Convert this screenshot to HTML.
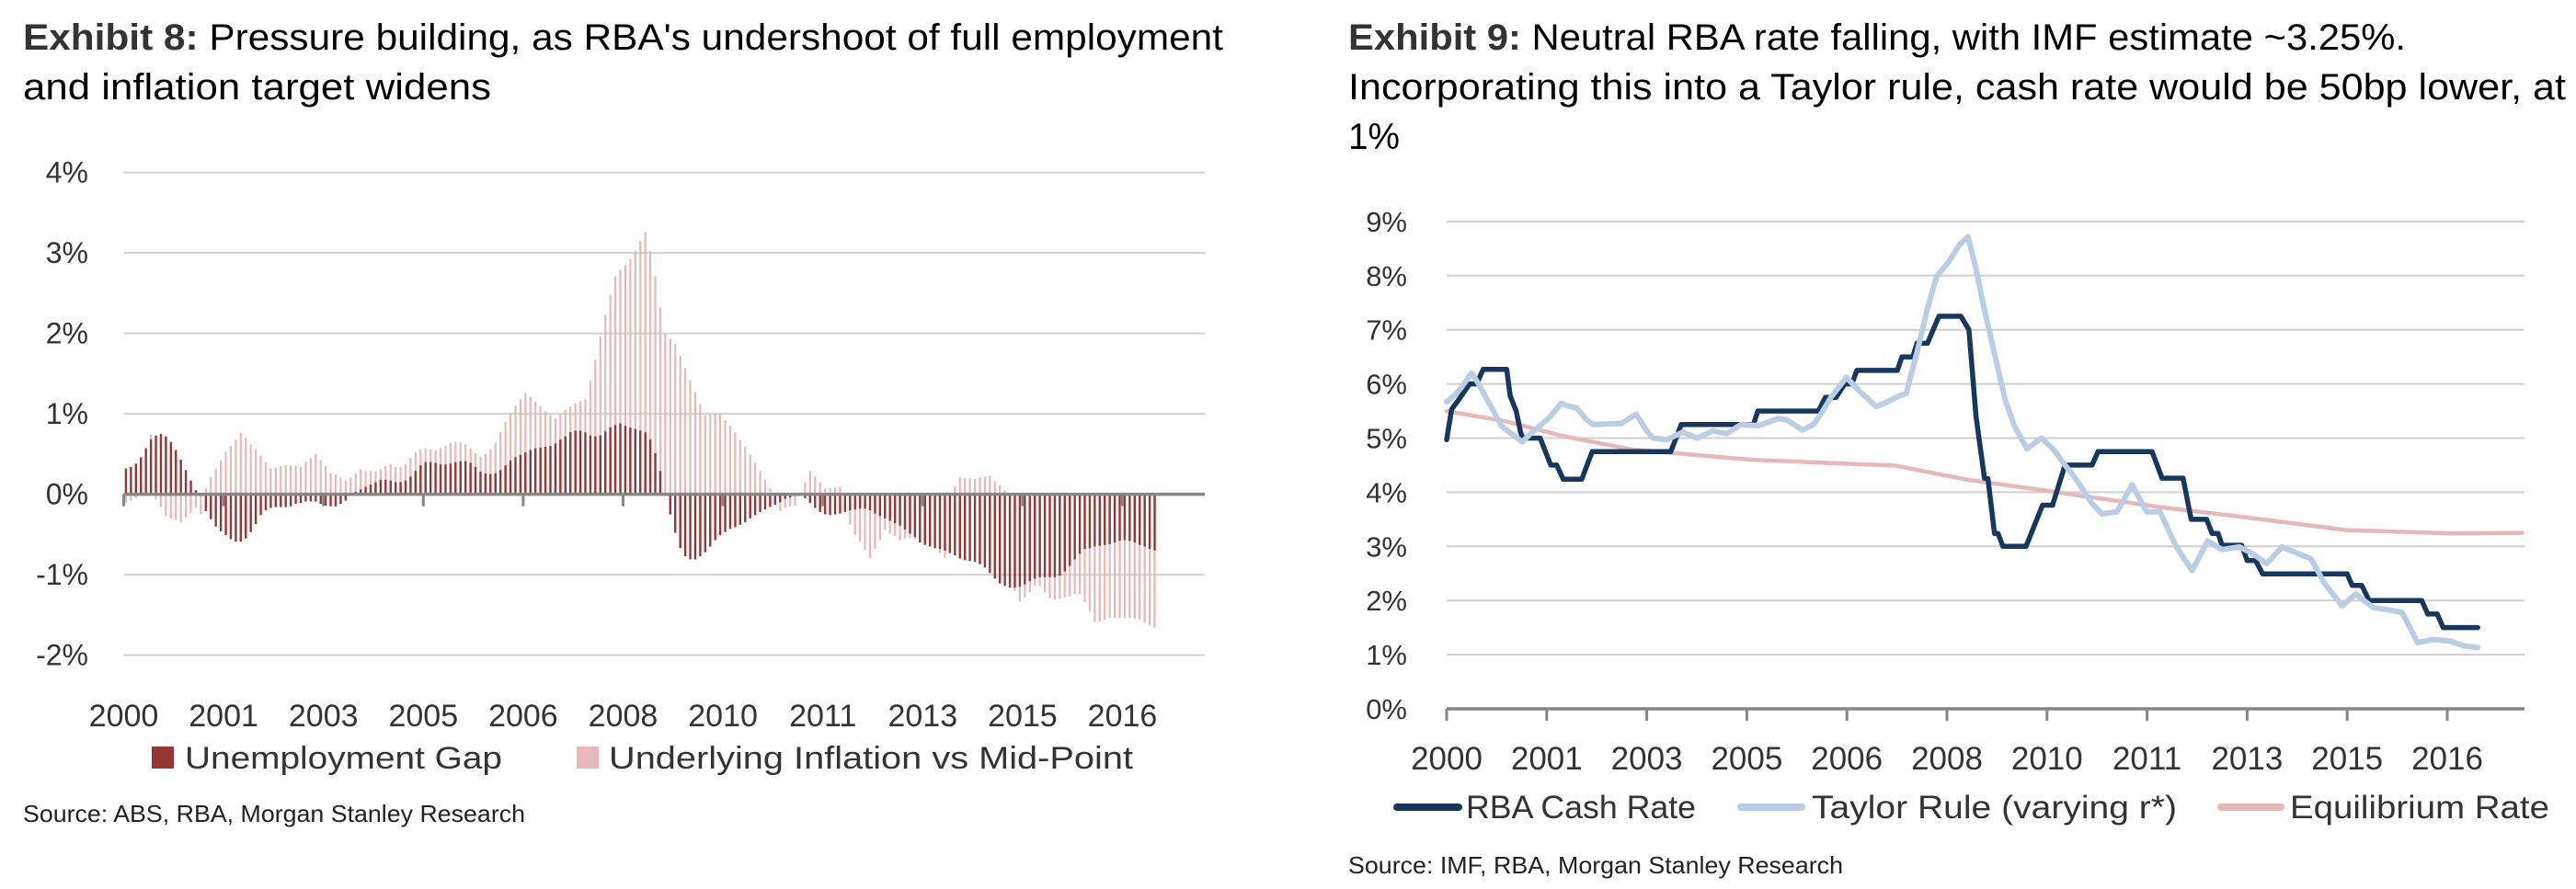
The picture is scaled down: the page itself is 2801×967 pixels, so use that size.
<!DOCTYPE html>
<html><head><meta charset="utf-8"><style>
html,body{margin:0;padding:0;background:#fff;}
svg{display:block;}
text{font-family:"Liberation Sans Narrow","Liberation Sans",sans-serif;}
</style></head><body>
<svg id="s" width="2801" height="967" viewBox="0 0 2801 967" xmlns="http://www.w3.org/2000/svg">
<g>
<text x="25" y="54" font-size="40" fill="#000" textLength="1305" lengthAdjust="spacingAndGlyphs"><tspan font-weight="bold" fill="#333">Exhibit 8:</tspan>  Pressure building, as RBA's undershoot of full employment</text>
<text x="25" y="108" font-size="40" fill="#000" textLength="509" lengthAdjust="spacingAndGlyphs">and inflation target widens</text>
<g id="lgrid"></g>
<g id="lbars"></g>
<g id="laxis"></g>
<g>
<rect x="165" y="812" width="24" height="24" fill="#943634"/>
<text x="201" y="836" font-size="34" fill="#333" textLength="345" lengthAdjust="spacingAndGlyphs">Unemployment Gap</text>
<rect x="627" y="812" width="24" height="24" fill="#e6b9b8"/>
<text x="662" y="836" font-size="34" fill="#333" textLength="570" lengthAdjust="spacingAndGlyphs">Underlying Inflation vs Mid-Point</text>
</g>
<text x="25" y="894" font-size="26" fill="#222" textLength="546" lengthAdjust="spacingAndGlyphs">Source: ABS, RBA, Morgan Stanley Research</text>
</g>
<g>
<text x="1466" y="54" font-size="40" fill="#000" textLength="1150" lengthAdjust="spacingAndGlyphs"><tspan font-weight="bold" fill="#333">Exhibit 9:</tspan>  Neutral RBA rate falling, with IMF estimate ~3.25%.</text>
<text x="1466" y="108" font-size="40" fill="#000" textLength="1324" lengthAdjust="spacingAndGlyphs">Incorporating this into a Taylor rule, cash rate would be 50bp lower, at</text>
<text x="1466" y="162" font-size="40" fill="#000" textLength="56" lengthAdjust="spacingAndGlyphs">1%</text>
<g id="rgrid"></g>
<g id="rlines"></g>
<g id="raxis"></g>
<g>
<line x1="1519" y1="878" x2="1586" y2="878" stroke="#17375e" stroke-width="8" stroke-linecap="round"/>
<text x="1594" y="890" font-size="35" fill="#333" textLength="250" lengthAdjust="spacingAndGlyphs">RBA Cash Rate</text>
<line x1="1893" y1="878" x2="1959" y2="878" stroke="#b9cde5" stroke-width="8" stroke-linecap="round"/>
<text x="1970" y="890" font-size="35" fill="#333" textLength="397" lengthAdjust="spacingAndGlyphs">Taylor Rule (varying r*)</text>
<line x1="2415" y1="878" x2="2480" y2="878" stroke="#e6b9b8" stroke-width="8" stroke-linecap="round"/>
<text x="2490" y="890" font-size="35" fill="#333" textLength="282" lengthAdjust="spacingAndGlyphs">Equilibrium Rate</text>
</g>
<text x="1466" y="950" font-size="26" fill="#222" textLength="538" lengthAdjust="spacingAndGlyphs">Source: IMF, RBA, Morgan Stanley Research</text>
</g>
</svg>
<script>
// ---------- Exhibit 8 data (monthly from Jan 2000) ----------
const xTickLabels = ["2000","2001","2003","2005","2006","2008","2010","2011","2013","2015","2016"];
const leftYTicks = [4,3,2,1,0,-1,-2];
const rightYTicks = [9,8,7,6,5,4,3,2,1,0];
const unemploymentGap = [0.32,0.34,0.38,0.46,0.57,0.68,0.73,0.75,0.72,0.65,0.55,0.43,0.30,0.17,0.05,
-0.02,-0.21,-0.31,-0.40,-0.46,-0.51,-0.56,-0.59,-0.59,-0.55,-0.47,-0.37,-0.26,-0.20,-0.17,
-0.16,-0.16,-0.16,-0.15,-0.12,-0.11,-0.09,-0.09,-0.09,-0.12,-0.14,-0.15,-0.15,-0.12,-0.08,
0,0.03,0.06,0.09,0.12,0.15,0.18,0.18,0.17,0.15,0.15,0.17,0.22,0.29,0.36,
0.40,0.40,0.39,0.37,0.37,0.38,0.40,0.41,0.41,0.39,0.34,0.28,0.26,0.25,0.26,
0.30,0.36,0.42,0.46,0.49,0.52,0.55,0.57,0.58,0.59,0.60,0.63,0.68,0.72,0.77,
0.79,0.79,0.77,0.73,0.72,0.73,0.78,0.83,0.86,0.88,0.85,0.83,0.81,0.79,
0.77,0.68,0.51,0.29,0,
-0.25,-0.48,-0.67,-0.77,-0.81,-0.81,-0.77,-0.72,-0.65,-0.57,-0.51,-0.47,-0.43,-0.41,-0.38,-0.35,-0.30,-0.26,-0.22,-0.19,-0.16,-0.13,-0.10,-0.06,-0.04,-0.02,-0.01,
-0.05,-0.11,-0.17,-0.22,-0.25,-0.26,-0.25,-0.24,-0.22,-0.20,-0.19,-0.18,-0.18,-0.20,-0.24,
-0.27,-0.30,-0.33,-0.36,-0.39,-0.44,-0.49,-0.53,-0.60,-0.63,-0.65,-0.67,-0.68,-0.70,-0.73,
-0.76,-0.80,-0.82,-0.83,-0.84,-0.87,-0.91,-0.98,-1.05,-1.11,-1.14,-1.16,-1.16,-1.15,-1.12,
-1.08,-1.05,-1.03,-1.03,-1.03,-1.03,-1.01,-0.96,-0.89,-0.81,-0.74,-0.68,-0.67,-0.65,-0.64,
-0.63,-0.62,-0.60,-0.58,-0.57,-0.58,-0.60,-0.63,-0.65,-0.68,-0.70];
const inflationGap = [-0.11,-0.08,-0.05,0.10,0.58,0.74,-0.06,-0.16,-0.27,-0.30,-0.32,-0.35,-0.29,-0.23,-0.17,-0.25,
0.08,0.22,0.32,0.42,0.53,0.60,0.68,0.76,0.70,0.62,0.56,0.48,0.40,0.32,
0.33,0.35,0.36,0.36,0.35,0.34,0.40,0.45,0.50,0.42,0.35,0.26,0.24,0.21,0.17,
0.21,0.26,0.31,0.29,0.29,0.28,0.31,0.35,0.37,0.34,0.34,0.37,0.45,0.52,0.56,
0.57,0.56,0.55,0.57,0.60,0.64,0.65,0.65,0.62,0.57,0.51,0.47,0.50,0.56,0.64,
0.77,0.90,1.01,1.10,1.18,1.26,1.21,1.15,1.09,1.03,0.98,0.94,0.99,1.05,1.09,
1.13,1.16,1.18,1.41,1.67,1.96,2.23,2.48,2.71,2.79,2.85,2.92,3.03,3.15,
3.26,3.02,2.71,2.32,2.00,1.93,1.87,1.72,1.57,1.42,1.27,1.12,0.98,0.99,1.00,1.00,0.92,0.85,0.77,0.67,0.59,0.49,0.39,0.29,0.18,0.08,
-0.10,-0.21,-0.17,-0.15,-0.14,-0.02,0.15,0.29,0.22,0.15,0.07,0.08,0.08,0.09,
-0.20,-0.38,-0.51,-0.59,-0.69,-0.80,-0.68,-0.57,-0.44,-0.49,-0.52,-0.57,-0.55,-0.55,-0.56,-0.58,-0.60,-0.62,-0.66,-0.73,-0.79,-0.74,
0.10,0.21,0.20,0.20,0.19,0.21,0.22,0.23,0.16,0.11,0.05,
-1.10,-1.20,-1.33,-1.28,-1.22,-1.14,-1.14,-1.22,-1.29,-1.31,-1.30,-1.28,-1.27,-1.24,-1.24,-1.34,-1.46,-1.59,-1.58,-1.56,-1.54,-1.54,-1.54,-1.54,-1.54,-1.55,-1.56,-1.60,-1.63,-1.66];

// ---------- Exhibit 9 data (month index from Jan 2000, value %) ----------
const cashMonths = [0,1,2.5,4.6,6,7.3,12,12.7,13.9,14.8,15.2,18.7,20.8,22,23.3,27,29.1,44.8,46.9,61.3,62.2,74.3,75.7,77.8,79.6,81,82,90.1,91,93.2,94,96.1,98.4,102.8,104.4,105.8,107.5,108.2,109.5,110.2,111.2,115.8,119.1,121.1,123.6,129,130.2,141,143,147.2,148.8,151.9,153,154.2,155,158.9,160,161.7,163.1,180,181,182.9,184.4,194.9,196.1,198,199.2,206.1];
const cashValues = [4.97,5.53,5.72,6.0,6.0,6.27,6.27,5.78,5.5,5.1,5.0,5.0,4.5,4.5,4.24,4.24,4.75,4.75,5.25,5.25,5.5,5.5,5.75,5.75,6.0,6.0,6.25,6.25,6.5,6.5,6.75,6.75,7.25,7.25,7.0,5.4,4.26,4.25,3.24,3.24,3.0,3.0,3.76,3.76,4.5,4.5,4.75,4.75,4.26,4.26,3.5,3.5,3.24,3.24,3.02,3.02,2.74,2.74,2.49,2.49,2.28,2.28,2.0,2.0,1.75,1.75,1.5,1.5];
const taylorMonths = [0,1.5,2.9,5,6.4,8.2,9.2,11,12.7,15.1,17,18.7,20.8,22.9,24.3,26.1,27.9,29.3,34.9,37.9,39.8,41.2,44,47.2,50,53.2,56,58.8,62.3,66.2,67.9,71.1,73.3,75,76.8,79.9,82.8,85.9,87.7,89.8,91.9,94,96.1,97.9,100.4,102.5,104.2,105.8,107.3,109.6,111.6,113.5,116,118.9,121.3,123.6,125.9,129,131,134,137,139.9,142.6,145.7,147.2,149,152.1,155,158.5,161.2,163.9,167,169.3,172.8,175.5,179,181.7,185.2,187.5,191,194.1,197.2,200.7,203.4,206.1];
const taylorValues = [5.67,5.78,5.93,6.2,6.0,5.69,5.53,5.22,5.1,4.93,5.1,5.23,5.41,5.64,5.59,5.55,5.34,5.25,5.27,5.44,5.16,5.0,4.97,5.11,5.0,5.13,5.08,5.25,5.23,5.36,5.34,5.15,5.25,5.47,5.75,6.12,5.84,5.58,5.65,5.75,5.83,6.58,7.39,7.98,8.26,8.57,8.72,8.13,7.45,6.52,5.72,5.22,4.8,5.0,4.79,4.5,4.23,3.79,3.6,3.64,4.14,3.64,3.64,3.02,2.8,2.55,3.1,2.94,2.99,2.86,2.68,2.99,2.9,2.77,2.31,1.9,2.12,1.87,1.84,1.78,1.22,1.28,1.25,1.16,1.13];
const eqMonths = [0,11.7,23.6,37,61,89.8,97.5,104.2,119.7,143,158.5,179.8,201.1,215];
const eqValues = [5.5,5.31,5.03,4.79,4.6,4.49,4.35,4.23,4.03,3.72,3.55,3.3,3.24,3.25];

const NS = "http://www.w3.org/2000/svg";
function mk(tag, attrs, parent){const e=document.createElementNS(NS,tag);for(const k in attrs)e.setAttribute(k,attrs[k]);parent.appendChild(e);return e;}

// ---------- Left axes ----------
const L = {x0:134.5, dx:5.43, y0:537.6, dy:87.5, x1:1310};
const lx = m => L.x0 + L.dx*m;
const ly = v => L.y0 - L.dy*v;
const lgrid = document.getElementById('lgrid');
leftYTicks.forEach(t=>{
  if(t!==0){
    const g = mk('line',{x1:L.x0,x2:L.x1,y1:ly(t),y2:ly(t),stroke:'#d0d0d0','stroke-width':2},lgrid);
    
    
  }
  const tx = mk('text',{x:96,y:ly(t)+11,'font-size':32,fill:'#333','text-anchor':'end'},lgrid);
  tx.textContent = t+'%';
  
  
});
const lbars = document.getElementById('lbars');
inflationGap.forEach((v,i)=>{
  const y = Math.min(ly(v),ly(0)), h = Math.abs(ly(v)-ly(0));
  const r = mk('rect',{x:lx(i+0.45)-1.1,y:y,width:2.2,height:h,fill:'#e6b9b8'},lbars);
  
  
});
unemploymentGap.forEach((v,i)=>{
  const y = Math.min(ly(v),ly(0)), h = Math.abs(ly(v)-ly(0));
  const r = mk('rect',{x:lx(i+0.45)-1.2,y:y,width:2.4,height:h,fill:'#943634'},lbars);
  
  
});
const laxis = document.getElementById('laxis');
const la = mk('line',{x1:L.x0,x2:L.x1,y1:ly(0),y2:ly(0),stroke:'#868686','stroke-width':3.5},laxis);


xTickLabels.forEach((lab,k)=>{
  const x = lx(k*20);
  const t = mk('line',{x1:x,x2:x,y1:ly(0),y2:ly(0)+13,stroke:'#868686','stroke-width':3},laxis);
  
  
  const tx = mk('text',{x:x,y:790,'font-size':34,fill:'#333','text-anchor':'middle'},laxis);
  tx.textContent = lab;
  
  
});

// ---------- Right axes ----------
const R = {x0:1573, dx:5.44, y0:771, dy:58.9, x1:2745};
const rx = m => R.x0 + R.dx*m;
const ry = v => R.y0 - R.dy*v;
const rgrid = document.getElementById('rgrid');
rightYTicks.forEach(t=>{
  if(t!==0){
    const g = mk('line',{x1:R.x0,x2:R.x1,y1:ry(t),y2:ry(t),stroke:'#d0d0d0','stroke-width':2},rgrid);
    
    
  }
  const tx = mk('text',{x:1530,y:ry(t)+11,'font-size':31,fill:'#333','text-anchor':'end'},rgrid);
  tx.textContent = t+'%';
  
  
});
const rlines = document.getElementById('rlines');
function series(ms,vs,color,w,name){
  const pts = ms.map((m,i)=>rx(m).toFixed(1)+','+ry(vs[i]).toFixed(1)).join(' ');
  const p = mk('polyline',{points:pts,fill:'none',stroke:color,'stroke-width':w,'stroke-linejoin':'round','stroke-linecap':'round'},rlines);
  
  
}
series(eqMonths,eqValues,'#e6b9b8',4.5,'line-equilibrium-rate');
series(cashMonths,cashValues,'#17375e',5.5,'line-rba-cash-rate');
series(taylorMonths,taylorValues,'#b9cde5',6,'line-taylor-rule');
const raxis = document.getElementById('raxis');
const ra = mk('line',{x1:R.x0,x2:R.x1,y1:ry(0),y2:ry(0),stroke:'#868686','stroke-width':3.5},raxis);


xTickLabels.forEach((lab,k)=>{
  const x = rx(k*20);
  const t = mk('line',{x1:x,x2:x,y1:ry(0),y2:ry(0)+13,stroke:'#868686','stroke-width':3},raxis);
  
  
  const tx = mk('text',{x:x,y:837,'font-size':35,fill:'#333','text-anchor':'middle'},raxis);
  tx.textContent = lab;
  
  
});
</script>
</body></html>
